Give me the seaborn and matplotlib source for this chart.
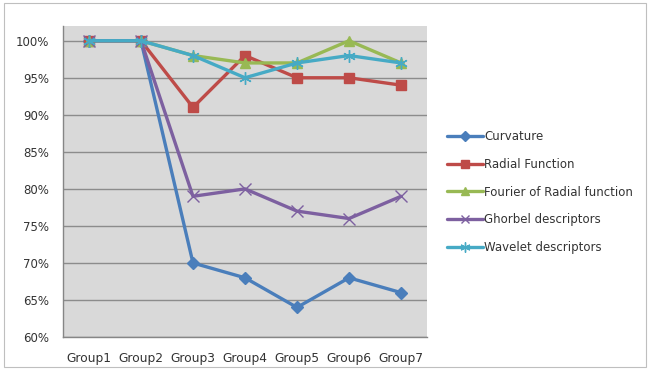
import matplotlib
matplotlib.use("Agg")
import matplotlib.pyplot as plt
from matplotlib.ticker import FixedLocator, PercentFormatter
import numpy as np
import pandas as pd
import seaborn as sns

groups = ["Group1", "Group2", "Group3", "Group4", "Group5", "Group6", "Group7"]
curvature = [100, 100, 70, 68, 64, 68, 66]
radial = [100, 100, 91, 98, 95, 95, 94]
fourier = [100, 100, 98, 97, 97, 100, 97]
ghorbel = [100, 100, 79, 80, 77, 76, 79]
wavelet = [100, 100, 98, 95, 97, 98, 97]

series = [
    ("Curvature", curvature, "#4A7EBB", "D", 6),
    ("Radial Function", radial, "#BE4B48", "s", 7),
    ("Fourier of Radial function", fourier, "#98B954", "^", 7),
    ("Ghorbel descriptors", ghorbel, "#7D60A0", "x", 8),
    ("Wavelet descriptors", wavelet, "#46AAC5", (6, 2, 0), 9),
]

sns.set_theme(style="white")
plt.rcParams["font.family"] = ["DejaVu Sans"]

fig = plt.figure(figsize=(6.49, 3.70), dpi=100)
ax = fig.add_axes([0.097, 0.089, 0.561, 0.841])
ax.set_facecolor("#D9D9D9")

x = np.arange(len(groups))
for name, vals, color, marker, ms in series:
    df = pd.DataFrame({"x": x, "y": np.array(vals) / 100})
    sns.lineplot(data=df, x="x", y="y", ax=ax, color=color, linewidth=2.4,
                 marker=marker, markersize=ms, markeredgecolor=color,
                 markeredgewidth=1.0, label=name)

ax.set_xlim(-0.5, len(groups) - 0.5)
ax.set_ylim(0.6, 1.02)
ax.set_yticks(np.arange(0.6, 1.001, 0.05))
ax.yaxis.set_major_formatter(PercentFormatter(1.0, decimals=0))
ax.set_xticks(x)
ax.set_xticklabels(groups)
ax.xaxis.set_minor_locator(FixedLocator(np.arange(-0.5, len(groups), 1)))
ax.tick_params(axis="x", which="major", length=0, labelsize=8.8, pad=11, colors="#333333")
ax.tick_params(axis="x", which="minor", length=5, color="#868686", width=1)
ax.tick_params(axis="y", length=0, labelsize=8.5, pad=10, colors="#333333")
ax.grid(axis="y", color="#8C8C8C", linewidth=1)
ax.set_axisbelow(True)
for s in ["top", "right"]:
    ax.spines[s].set_visible(False)
for s in ["left", "bottom"]:
    ax.spines[s].set_color("#868686")
    ax.spines[s].set_linewidth(1)
ax.set_xlabel("")
ax.set_ylabel("")

leg = ax.legend(loc="center left", bbox_to_anchor=(1.026, 0.466), frameon=False,
                fontsize=8.5, handlelength=3.0, handletextpad=0.15, labelspacing=1.25,
                markerscale=0.8)
for t in leg.get_texts():
    t.set_color("#333333")

fig.patches.append(plt.Rectangle((0.006, 0.008), 0.99, 0.984, transform=fig.transFigure,
                                 fill=False, edgecolor="#BFBFBF", linewidth=0.8))

fig.savefig("out.png", dpi=100)
